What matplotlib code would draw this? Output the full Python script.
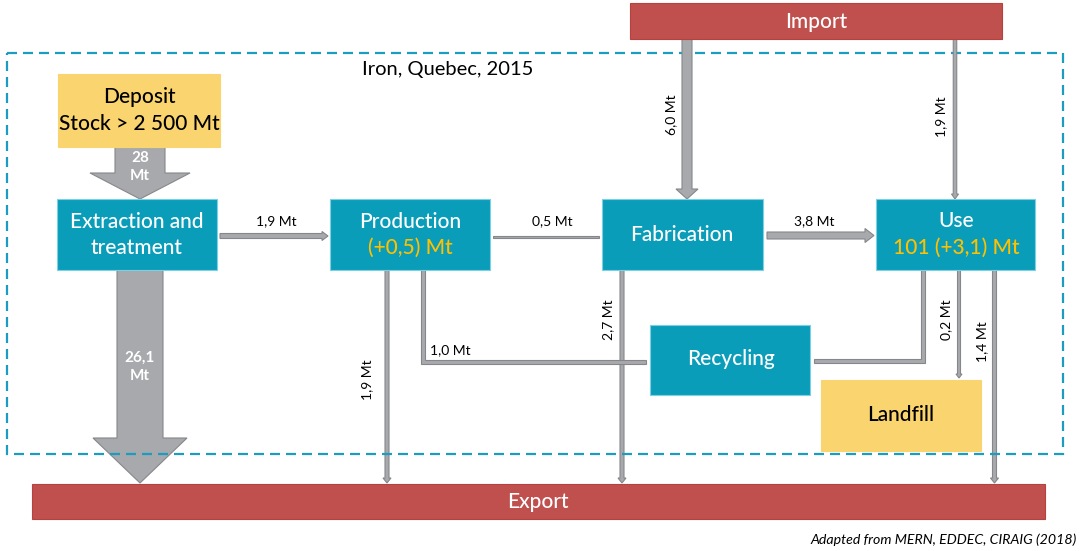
import matplotlib
matplotlib.use("Agg")
import matplotlib.pyplot as plt
from matplotlib.patches import Rectangle, Polygon, FancyArrow

plt.rcParams['font.family'] = ['Lato', 'DejaVu Sans']

# --- data (Mt) ---
title = "Iron, Quebec, 2015"
source_note = "Adapted from MERN, EDDEC, CIRAIG (2018)"

deposit_stock = "2 500"
production_change = 0.5
use_stock = 101
use_change = 3.1

# flows: source -> target, value in Mt
flow_src = ["Deposit", "Extraction", "Production", "Import", "Import", "Fabrication",
            "Extraction", "Production", "Production", "Fabrication", "Use", "Use", "Use"]
flow_dst = ["Extraction", "Production", "Fabrication", "Fabrication", "Use", "Use",
            "Export", "Export", "Recycling", "Export", "Recycling", "Landfill", "Export"]
flow_val = [28, 1.9, 0.5, 6.0, 1.9, 3.8, 26.1, 1.9, 1.0, 2.7, None, 0.2, 1.4]
flow_dec = [0, 1, 1, 1, 1, 1, 1, 1, 1, 1, 1, 1, 1]


def fmt(v, d=1):
    return f"{v:.{d}f}".replace(".", ",")


# --- colours ---
TEAL = '#0A9DBA'
TEAL_EDGE = '#7FCFE2'
YELLOW = '#FAD46E'
RED = '#C0504D'
RED_EDGE = '#B8403D'
GOLD = '#FFC000'
GREY = '#A7A9AC'
GREY_EDGE = '#85878A'
DASH = '#1B9CC0'

# --- layout in pixels (x0, y0, x1, y1) ---
boxes = {
    "Deposit": (58, 74, 220, 147, YELLOW),
    "Extraction": (57, 199, 217, 270, TEAL),
    "Production": (330, 199, 490, 270, TEAL),
    "Fabrication": (602, 199, 763, 270, TEAL),
    "Use": (876, 199, 1035, 270, TEAL),
    "Recycling": (650, 325, 810, 395, TEAL),
    "Landfill": (821, 380, 981, 451, YELLOW),
    "Import": (630, 3, 1002, 39, RED),
    "Export": (32, 484, 1045, 519, RED),
}

fig = plt.figure(figsize=(10.84, 5.51), dpi=100)
ax = fig.add_axes([0, 0, 1, 1])
ax.set_xlim(0, 1084)
ax.set_ylim(551, 0)
ax.axis('off')


def straight(x0, y0, x1, y1, w, hw=None, hl=0.0, z=2):
    if hw is None:
        hw = w
    a = FancyArrow(x0, y0, x1 - x0, y1 - y0, width=w, head_width=hw, head_length=hl,
                   length_includes_head=True, fc=GREY, ec=GREY_EDGE, lw=0.8, zorder=z)
    ax.add_patch(a)


def elbow(xa, ya, yc, xb, w, z=2):
    # vertical from (xa, ya) down to yc, then horizontal to xb
    s = 1 if xb > xa else -1
    h = w / 2
    pts = [(xa - s * h, ya), (xa + s * h, ya), (xa + s * h, yc - h),
           (xb, yc - h), (xb, yc + h), (xa - s * h, yc + h)]
    ax.add_patch(Polygon(pts, closed=True, fc=GREY, ec=GREY_EDGE, lw=0.8, zorder=z))


# flows (geometry per flow index)
straight(140, 147, 140, 199, 50, 100, 26)          # 28 Mt
straight(220, 236, 328, 236, 5, 9, 6)              # 1,9 Mt
straight(493, 237, 599, 237, 2.5)                   # 0,5 Mt
straight(687, 39, 687, 199, 10, 22, 10, z=4)        # 6,0 Mt
straight(955, 39, 955, 199, 3.5, 7, 5, z=4)         # 1,9 Mt
straight(767, 235.5, 874, 235.5, 7, 14, 9)          # 3,8 Mt
straight(140, 270, 140, 483, 46, 94, 45, z=1)       # 26,1 Mt
straight(387, 270, 387, 483, 4, 8, 5, z=1)          # 1,9 Mt
elbow(423, 270, 362, 646, 4)                        # 1,0 Mt
straight(622, 270, 622, 483, 4, 8, 5, z=1)          # 2,7 Mt
elbow(923, 270, 361, 814, 4)                        # Use -> Recycling
straight(959, 270, 959, 378, 3, 6, 4)               # 0,2 Mt
straight(994.5, 270, 994.5, 483, 4, 8, 5, z=1)      # 1,4 Mt

# system boundary
ax.add_patch(Rectangle((7, 53), 1056, 401, fill=False, ec=DASH, lw=1.6,
                       ls=(0, (4.5, 2.7)), zorder=3))

# boxes
for name, (x0, y0, x1, y1, c) in boxes.items():
    ec = TEAL_EDGE if c == TEAL else (RED_EDGE if c == RED else YELLOW)
    ax.add_patch(Rectangle((x0, y0), x1 - x0, y1 - y0, fc=c, ec=ec, lw=0.8, zorder=4))

big = dict(fontsize=15, fontweight='medium', ha='center', va='center', zorder=5)
ax.text(139, 97, "Deposit", color='black', **big)
ax.text(139, 124, "Stock > " + deposit_stock + " Mt", color='black', **big)
ax.text(137, 222, "Extraction and", color='white', **big)
ax.text(137, 248, "treatment", color='white', **big)
ax.text(410, 222, "Production", color='white', **big)
ax.text(410, 248, "(+" + fmt(production_change) + ") Mt", color=GOLD, **big)
ax.text(682, 235, "Fabrication", color='white', **big)
ax.text(956, 221, "Use", color='white', **big)
ax.text(956, 248, f"{use_stock} (+" + fmt(use_change) + ") Mt", color=GOLD, **big)
ax.text(731, 359, "Recycling", color='white', **big)
ax.text(901, 415, "Landfill", color='black', **big)
ax.text(816, 22, "Import", color='white', **big)
ax.text(538, 502, "Export", color='white', **big)

ax.text(362, 70, title, fontsize=14.5, ha='left', va='center', zorder=5)

# flow labels
small = dict(fontsize=10, ha='center', va='center', zorder=5)
lab = [fmt(v, d) + " Mt" if v is not None else "" for v, d in zip(flow_val, flow_dec)]
white = dict(fontsize=11, ha='center', va='center', zorder=5, color='white', fontweight='bold')
ax.text(140, 158, fmt(flow_val[0], 0), **white)
ax.text(140, 176, "Mt", **white)
ax.text(276, 221, lab[1], **small)
ax.text(552, 221, lab[2], **small)
ax.text(671, 115, lab[3], rotation=90, **small)
ax.text(941, 117, lab[4], rotation=90, **small)
ax.text(814, 221, lab[5], **small)
ax.text(139.5, 358, fmt(flow_val[6]), **white)
ax.text(139.5, 376, "Mt", **white)
ax.text(367, 380, lab[7], rotation=90, **small)
ax.text(450, 350, lab[8], **small)
ax.text(608, 320, lab[9], rotation=90, **small)
ax.text(946, 320, lab[11], rotation=90, **small)
ax.text(982, 342, lab[12], rotation=90, **small)

ax.text(1077, 540, source_note, fontsize=10.2, style='italic', ha='right', va='center')

fig.savefig("out.png", dpi=100)
